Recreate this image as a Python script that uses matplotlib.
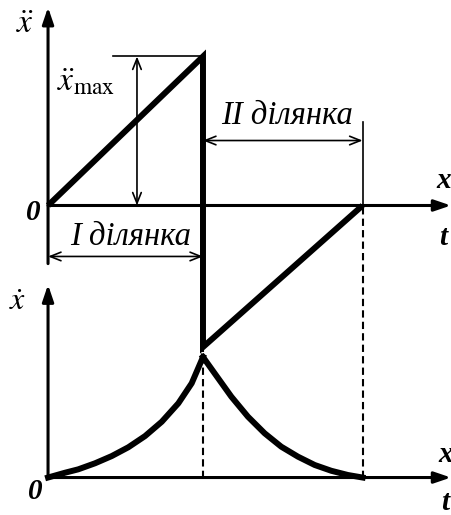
import matplotlib
matplotlib.use("Agg")
import matplotlib.pyplot as plt

plt.rcParams['font.family'] = ['Liberation Serif', 'DejaVu Serif']
plt.rcParams['mathtext.fontset'] = 'stix'

# Acceleration profile: linear rise on section I, jump down, linear rise on section II
t_acc = [0.0, 1.0, 1.0, 2.03]
acc = [0.0, 1.0, -0.95, 0.0]

# Velocity profile (section I then section II)
t_vel1 = [0.0, 0.110, 0.195, 0.303, 0.411, 0.518, 0.626, 0.734, 0.841, 0.927, 1.0]
vel1 = [0.0, 0.040, 0.068, 0.118, 0.178, 0.251, 0.344, 0.463, 0.616, 0.782, 1.0]
t_vel2 = [1.0, 1.075, 1.183, 1.290, 1.398, 1.505, 1.613, 1.721, 1.828, 1.935, 2.03]
vel2 = [1.0, 0.865, 0.671, 0.505, 0.367, 0.256, 0.173, 0.104, 0.056, 0.021, 0.0]

t_switch = 1.0
t_end = 2.03
a_max = 1.0

section_labels = ["I ділянка", "II ділянка"]

W, H = 452, 515
fig = plt.figure(figsize=(W / 100, H / 100), dpi=100)

xlim = (-0.31, 2.607)
ax_a = fig.add_axes([0, 0, 1, 1])
ax_v = fig.add_axes([0, 0, 1, 1])
for ax in (ax_a, ax_v):
    ax.set_xlim(*xlim)
    ax.axis('off')
    ax.patch.set_alpha(0)
ax_a.set_ylim(-2.077, 1.379)
ax_v.set_ylim(-0.311, 3.963)

K = 'black'
thick = 4.3
axis_lw = 2.2
thin = 1.2

axis_arrow = dict(arrowstyle='-|>,head_length=0.5,head_width=0.17',
                  mutation_scale=20, lw=axis_lw, color=K,
                  shrinkA=0, shrinkB=0)
dim_arrow = dict(arrowstyle='<->,head_length=0.55,head_width=0.22',
                 mutation_scale=14, lw=thin, color=K,
                 shrinkA=0, shrinkB=0)


def arrow(ax, start, end, props):
    ax.annotate('', xy=end, xytext=start, xycoords='data',
                textcoords='data', arrowprops=props)


# ---- acceleration plot ----
arrow(ax_a, (0, -0.39), (0, 1.33), axis_arrow)
arrow(ax_a, (0, 0), (2.6, 0), axis_arrow)
ax_a.plot(t_acc, acc, color=K, lw=thick, solid_joinstyle='miter',
          solid_capstyle='butt')

# a_max dimension
ax_a.plot([0.42, t_switch], [a_max, a_max], color=K, lw=thin)
arrow(ax_a, (0.574, 0), (0.574, a_max), dim_arrow)
ax_a.text(0.06, 0.83, r'$\ddot{x}_{\mathrm{max}}$', fontsize=24,
          ha='left', va='center')

# section I dimension
arrow(ax_a, (0, -0.342), (t_switch, -0.342), dim_arrow)
ax_a.text(0.53, -0.21, section_labels[0], fontsize=23.5, style='italic',
          ha='center', va='center')

# section II dimension
ax_a.plot([t_end, t_end], [0, 0.557], color=K, lw=thin)
arrow(ax_a, (t_switch, 0.436), (t_end, 0.436), dim_arrow)
ax_a.text(1.545, 0.60, section_labels[1], fontsize=23.5, style='italic',
          ha='center', va='center')

ax_a.text(-0.15, 1.21, r'$\ddot{x}$', fontsize=24, ha='center', va='center')
ax_a.text(-0.097, -0.047, '0', fontsize=21, style='italic', weight='bold',
          ha='center', va='center')
ax_a.text(2.555, 0.17, 'x', fontsize=21, style='italic', weight='bold',
          ha='center', va='center')
ax_a.text(2.55, -0.215, 't', fontsize=21, style='italic', weight='bold',
          ha='center', va='center')

# ---- velocity plot ----
arrow(ax_v, (0, 0), (0, 1.6), axis_arrow)
arrow(ax_v, (0, 0), (2.6, 0), axis_arrow)
ax_v.plot(t_vel1, vel1, color=K, lw=thick, solid_joinstyle='round')
ax_v.plot(t_vel2, vel2, color=K, lw=thick, solid_joinstyle='round')

# dashed guide lines from the acceleration plot down to the time axis
v_jump = 1.083
v_top_end = 2.265
ax_v.plot([t_switch, t_switch], [0, v_jump], color=K, lw=1.5,
          linestyle=(0, (3.5, 2)))
ax_v.plot([t_end, t_end], [0, v_top_end], color=K, lw=1.5,
          linestyle=(0, (3.5, 2)))

ax_v.text(-0.194, 1.455, r'$\dot{x}$', fontsize=23, ha='center', va='center')
ax_v.text(-0.084, -0.116, '0', fontsize=21, style='italic', weight='bold',
          ha='center', va='center')
ax_v.text(2.565, 0.19, 'x', fontsize=21, style='italic', weight='bold',
          ha='center', va='center')
ax_v.text(2.565, -0.207, 't', fontsize=21, style='italic', weight='bold',
          ha='center', va='center')

fig.savefig('out.png', dpi=100)
